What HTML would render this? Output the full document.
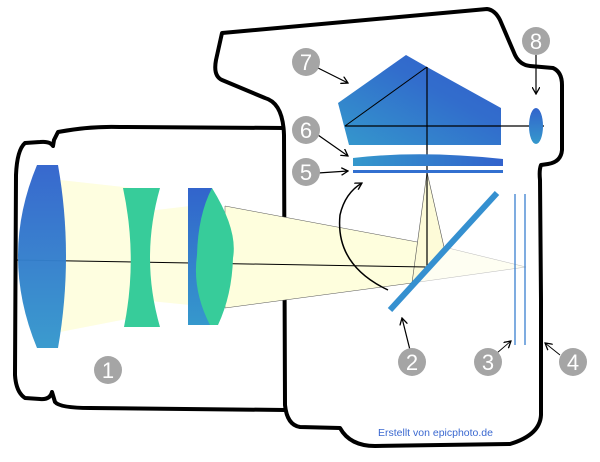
<!DOCTYPE html>
<html><head><meta charset="utf-8"><style>
html,body{margin:0;padding:0;background:#fff;}
svg{display:block;font-family:"Liberation Sans",sans-serif;}
</style></head><body>
<svg width="600" height="462" viewBox="0 0 600 462">
<defs>
<linearGradient id="gb" x1="0" y1="0" x2="0" y2="1"><stop offset="0" stop-color="#3264cc"/><stop offset="1" stop-color="#3598cc"/></linearGradient>
<linearGradient id="gp" x1="0" y1="1" x2="1" y2="0"><stop offset="0" stop-color="#3498cc"/><stop offset="0.6" stop-color="#326dcc"/><stop offset="1" stop-color="#3260cc"/></linearGradient>
<linearGradient id="gh" x1="0" y1="0" x2="1" y2="0"><stop offset="0" stop-color="#3498cc"/><stop offset="1" stop-color="#3262cc"/></linearGradient>
<marker id="ah" markerWidth="8" markerHeight="8" refX="7" refY="4" orient="auto" markerUnits="userSpaceOnUse"><path d="M0,0 L7,4 L0,8" fill="none" stroke="#000" stroke-width="1.3"/></marker>
</defs>
<!-- outlines -->
<path d="M285,128 L120,127 Q90,126 58,132 L54,140 L53,146 Q50,141 40,142 L25,143 Q17,150 16,175 L15,375 Q16,392 25,398 L40,399 Q50,400 52,392 L55,402 Q60,408 90,408 L285,410" fill="none" stroke="#000" stroke-width="4" stroke-linejoin="round"/>
<path d="M222,33 L487,9 Q495,10 500,20 L515,55 Q520,65 530,66 L553,68 Q562,72 562,85 L562,150 Q561,162 548,164 L541,165 Q539,170 540,180 L541,300 L541,415 Q540,435 510,444 L375,446 Q350,446 340,428 L300,427 Q287,425 285,405 L284,135 Q283,103 265,98 L222,80 Q213,76 216,60 Z" fill="none" stroke="#000" stroke-width="4" stroke-linejoin="round"/>
<!-- light -->
<g>
<polygon points="60,180 132,188 132,318 60,332" fill="#fefee0"/>
<polygon points="140,212 190,206 190,305 140,300" fill="#fefee0"/>
<polygon points="225,206 444,247 412,283 225,308" fill="#fefedd" stroke="#555" stroke-width="0.5"/>
<polygon points="444,247 526,267 412,283" fill="#fefef2" stroke="#bbb" stroke-width="0.5"/>
<polygon points="427,172 444,247 412,283" fill="#fdfbd8" stroke="#555" stroke-width="0.6"/>
</g>
<line x1="15" y1="260" x2="427" y2="267" stroke="#000" stroke-width="1"/>
<line x1="427" y1="67" x2="427" y2="267" stroke="#000" stroke-width="1.2"/>
<!-- lenses -->
<path d="M37,165 L58,165 Q74,256 58,348 L37,348 Q-1,256 37,165 Z" fill="url(#gb)" opacity="0.97"/>
<path d="M123,188 L160,188 Q140,258 160,327 L124,327 Q138,258 123,188 Z" fill="#37cc9a"/>
<rect x="188" y="188" width="24" height="137" fill="url(#gb)"/>
<path d="M212,188 Q238,230 233,258 Q232,295 218,325 L210,325 Q192,290 197,255 Q198,215 212,188 Z" fill="#37cc9a"/>
<!-- mirror, sensor -->
<line x1="497" y1="193" x2="390" y2="310" stroke="#3590d0" stroke-width="6"/>
<line x1="515" y1="194" x2="515" y2="345" stroke="#3a80d0" stroke-width="1.3"/>
<line x1="525" y1="194" x2="525" y2="345" stroke="#3a80d0" stroke-width="1.3"/>
<!-- screen -->
<path d="M353,158 Q420,150 503,159 L503,166 L353,166 Z" fill="url(#gh)"/>
<rect x="353" y="170" width="150" height="3" fill="#3270d0"/>
<!-- prism -->
<polygon points="338,103 406,55 427,67 501,108 501,145 349,145" fill="url(#gp)"/>
<line x1="345" y1="126" x2="427" y2="67" stroke="#000" stroke-width="1"/>
<line x1="345" y1="126" x2="544" y2="126" stroke="#000" stroke-width="1.2"/>
<line x1="427" y1="67" x2="427" y2="150" stroke="#000" stroke-width="1.2"/>
<ellipse cx="536" cy="126" rx="7" ry="18" fill="url(#gb)"/>
<!-- mirror flip arrow -->
<path d="M388,290 Q335,265 340,215 Q345,193 362,183" fill="none" stroke="#000" stroke-width="1.5" marker-end="url(#ah)"/>
<!-- pointers -->
<g stroke="#000" stroke-width="1.2" fill="none">
<line x1="318" y1="68" x2="348" y2="83" marker-end="url(#ah)"/>
<line x1="318" y1="135" x2="348" y2="156" marker-end="url(#ah)"/>
<line x1="318" y1="173" x2="348" y2="171" marker-end="url(#ah)"/>
<line x1="536" y1="55" x2="536" y2="94" marker-end="url(#ah)"/>
<line x1="410" y1="350" x2="402" y2="318" marker-end="url(#ah)"/>
<line x1="497" y1="353" x2="511" y2="341" marker-end="url(#ah)" stroke-width="0.9"/>
<line x1="560" y1="355" x2="545" y2="343" marker-end="url(#ah)" stroke-width="0.9"/>
</g>
<g font-size="22" fill="#fff" text-anchor="middle">
<g><circle cx="108" cy="370" r="14" fill="#a5a5a5"/><text x="108" y="378">1</text></g>
<g><circle cx="412" cy="362" r="14" fill="#a5a5a5"/><text x="412" y="370">2</text></g>
<g><circle cx="488" cy="362" r="14" fill="#a5a5a5"/><text x="488" y="370">3</text></g>
<g><circle cx="573" cy="362" r="14" fill="#a5a5a5"/><text x="573" y="370">4</text></g>
<g><circle cx="306" cy="172" r="14" fill="#a5a5a5"/><text x="306" y="180">5</text></g>
<g><circle cx="306" cy="130" r="14" fill="#a5a5a5"/><text x="306" y="138">6</text></g>
<g><circle cx="306" cy="62" r="14" fill="#a5a5a5"/><text x="306" y="70">7</text></g>
<g><circle cx="536" cy="41" r="14" fill="#a5a5a5"/><text x="536" y="49">8</text></g>
</g>
<text x="378" y="436" font-size="10.5" fill="#3a68d0">Erstellt von epicphoto.de</text>
</svg>
</body></html>
